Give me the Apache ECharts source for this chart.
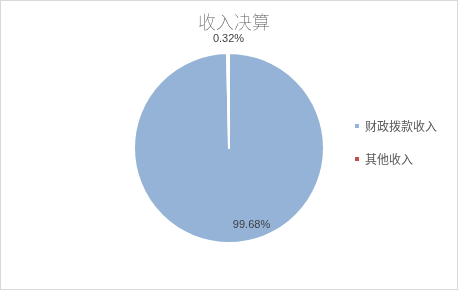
<!DOCTYPE html>
<html>
<head>
<meta charset="utf-8">
<script src="https://cdn.jsdelivr.net/npm/echarts@6/dist/echarts.min.js"></script>
<style>
    html, body { margin: 0; padding: 0; background: #fff; }
    #pie {
        width: 458px;
        height: 290px;
        box-sizing: border-box;
        border: 1px solid #d9d9d9;
    }
</style>
</head>
<body>
<div id="pie"></div>
<script>
let titleText = '收入决算'
let names = ['财政拨款收入', '其他收入']
let values = [99.68, 0.32]
let colors = ['#95b3d7', '#c0504d']

let mychart = echarts.init(document.getElementById('pie'))
let option = {
    backgroundColor: '#fff',
    animation: false,
    title: {
        text: titleText,
        left: 228,
        top: 7,
        textAlign: 'center',
        textStyle: {
            color: '#595959',
            fontSize: 18,
            fontWeight: 'lighter',
            fontFamily: 'Noto Sans CJK SC'
        }
    },
    legend: {
        orient: 'vertical',
        left: 347,
        top: 114,
        itemWidth: 6,
        itemHeight: 6,
        itemGap: 21,
        icon: 'rect',
        data: names,
        textStyle: {
            color: '#595959',
            fontSize: 12,
            fontFamily: 'Noto Sans CJK SC'
        }
    },
    series: [
        {
            type: 'pie',
            center: [228, 147],
            radius: [0, 95],
            startAngle: 90,
            clockwise: true,
            itemStyle: {
                borderColor: '#fff',
                borderWidth: 2
            },
            labelLine: { show: false },
            data: values.map(function (v, i) {
                return {
                    name: names[i],
                    value: v,
                    itemStyle: { color: colors[i] },
                    label: {
                        show: true,
                        position: 'inside',
                        formatter: '{c}%',
                        color: '#404040',
                        fontSize: 11,
                        fontFamily: 'Liberation Sans',
                        offset: i === 0 ? [22, 26] : [0, -59]
                    }
                }
            })
        }
    ]
}
mychart.setOption(option)
</script>
</body>
</html>
